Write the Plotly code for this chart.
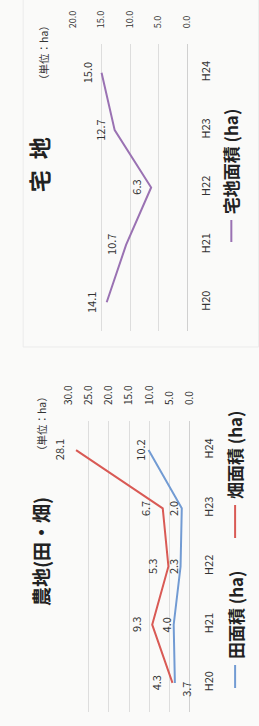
import plotly.graph_objects as go

# ---- data ----
years = ["H20", "H21", "H22", "H23", "H24"]
takuchi = [14.1, 10.7, 6.3, 12.7, 15.0]      # 宅地面積 (ha)
ta = [3.7, 4.0, 2.3, 2.0, 10.2]              # 田面積 (ha)
hata = [4.3, 9.3, 5.3, 6.7, 28.1]            # 畑面積 (ha)
ticks_top = [0, 5, 10, 15, 20]
ticks_bottom = [0, 5, 10, 15, 20, 25, 30]

W, H = 259, 726
FONT = "Noto Sans CJK JP, Noto Sans, sans-serif"
PURPLE = "#9a72b3"
RED = "#d95a55"
BLUE = "#729bd3"
GRID = "#dddddd"
TXT = "#333333"
BG = "#fafaf9"


def fx(px):
    return px / W


def fy(py):
    return 1 - py / H


fig = go.Figure()

fig.add_trace(go.Scatter(x=takuchi, y=years, mode="lines", line=dict(color=PURPLE, width=2),
                         xaxis="x", yaxis="y", hoverinfo="skip"))
fig.add_trace(go.Scatter(x=ta, y=years, mode="lines", line=dict(color=BLUE, width=2),
                         xaxis="x2", yaxis="y2", hoverinfo="skip"))
fig.add_trace(go.Scatter(x=hata, y=years, mode="lines", line=dict(color=RED, width=2),
                         xaxis="x2", yaxis="y2", hoverinfo="skip"))

common_x = dict(side="top", tickangle=-90, tickformat=".1f", showgrid=True, gridcolor=GRID,
                gridwidth=1, zeroline=True, zerolinecolor="#d0d0d0", zerolinewidth=1,
                showline=False, ticks="outside", tickcolor="rgba(0,0,0,0)", fixedrange=True)
common_y = dict(type="category", categoryorder="array", categoryarray=years, range=[-0.5, 4.5],
                side="right", tickangle=-90, showgrid=False, zeroline=False, showline=False,
                ticks="outside", tickcolor="rgba(0,0,0,0)", ticklen=9, fixedrange=True,
                tickfont=dict(size=11, color=TXT, family=FONT))

fig.update_layout(
    width=W, height=H, margin=dict(l=0, r=0, t=0, b=0),
    paper_bgcolor=BG, plot_bgcolor=BG, showlegend=False,
    font=dict(family=FONT, color=TXT),
    xaxis=dict(domain=[fx(68), fx(189)], range=[20, 0], tickvals=ticks_top, anchor="y",
               ticklen=13, tickfont=dict(size=9, color=TXT, family=FONT), **common_x),
    yaxis=dict(domain=[fy(331), fy(44)], anchor="x", **common_y),
    xaxis2=dict(domain=[fx(63), fx(192)], range=[30, 0], tickvals=ticks_bottom, anchor="y2",
                ticklen=13, tickfont=dict(size=10, color=TXT, family=FONT), **common_x),
    yaxis2=dict(domain=[fy(712), fy(421)], anchor="x2", **common_y),
)

ann = []


def label(x, y, xr, yr, text, xs=0, ys=0, size=11, color=TXT):
    ann.append(dict(x=x, y=y, xref=xr, yref=yr, text=text, textangle=-90,
                    xanchor="center", yanchor="middle", xshift=xs, yshift=ys,
                    showarrow=False, font=dict(size=size, color=color, family=FONT)))


# data labels
for v, c in zip(takuchi, years):
    label(v, c, "x", "y", f"{v:.1f}", xs=-15)
for v, c in zip(hata, years):
    label(v, c, "x2", "y2", f"{v:.1f}", xs=-17)
ta_side = ["below", "above", "above", "above", "above"]
for v, c, s in zip(ta, years, ta_side):
    if s == "below":
        label(v, c, "x2", "y2", f"{v:.1f}", xs=11, ys=-6)
    else:
        label(v, c, "x2", "y2", f"{v:.1f}", xs=-8)

# titles & units
label(fx(31), fy(165), "paper", "paper", "<b>宅\u2002地</b>", size=22, color="#222222")
label(fx(33), fy(552), "paper", "paper", "<b>農地(田・畑)</b>", size=19, color="#222222")
label(fx(36), fy(52), "paper", "paper", "（単位：ha）", size=10.5)
label(fx(34), fy(424), "paper", "paper", "（単位：ha）", size=10.5)

# legends (drawn rotated)
label(fx(236), fy(161), "paper", "paper", "<b>宅地面積 (ha)</b>", size=17, color="#222222")
label(fx(240), fy(615), "paper", "paper", "<b>田面積 (ha)</b>", size=17, color="#222222")
label(fx(240), fy(455), "paper", "paper", "<b>畑面積 (ha)</b>", size=17, color="#222222")

shapes = [
    dict(type="line", xref="paper", yref="paper", x0=fx(236), x1=fx(236), y0=fy(220), y1=fy(242),
         line=dict(color=PURPLE, width=2)),
    dict(type="line", xref="paper", yref="paper", x0=fx(240), x1=fx(240), y0=fy(665), y1=fy(688),
         line=dict(color=BLUE, width=2)),
    dict(type="line", xref="paper", yref="paper", x0=fx(240), x1=fx(240), y0=fy(505), y1=fy(538),
         line=dict(color=RED, width=2)),
    dict(type="rect", xref="paper", yref="paper", x0=fx(15), x1=fx(265), y0=fy(347), y1=fy(-5),
         line=dict(color="#ebebeb", width=1)),
]

fig.update_layout(annotations=ann, shapes=shapes)
fig.write_html(
    "out.html",
    config={"staticPlot": True},
    post_script="document.body.style.margin='0';document.body.style.overflow='hidden';"
                "document.body.style.background='" + BG + "';",
)
